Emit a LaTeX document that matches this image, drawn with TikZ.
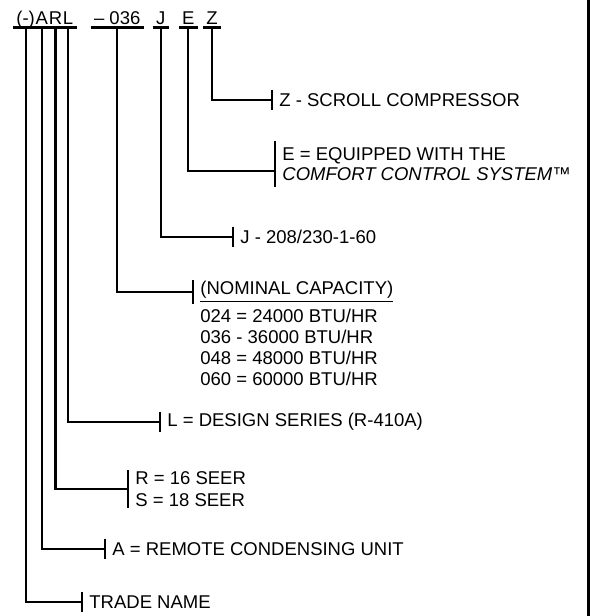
\documentclass[tikz,border=0pt]{standalone}
\usepackage{fontspec}
\setmainfont{Liberation Sans}
\usetikzlibrary{positioning}

\begin{document}
\begin{tikzpicture}[
    x=0.5pt, y=-0.5pt,
    txt/.style={font=\fontsize{9.25}{10.5}\selectfont},
    code/.style={txt, inner xsep=0pt, inner ysep=1.5pt, text depth=0pt, anchor=base west},
    lbl/.style={txt, anchor=west, inner xsep=3.5pt, inner ysep=0.5pt, minimum height=10pt, align=left},
    wire/.style={line width=1.1pt},
    border/.style={line width=1.5pt}
]
    \useasboundingbox (0,0) rectangle (591,616);

    % --- Model number ---
    \node[code] (cParen) at (16,24) {(-)};
    \node[code, base right=0pt of cParen] (cA) {A};
    \node[code, base right=0pt of cA] (cR) {R};
    \node[code, base right=0pt of cR] (cL) {L};
    \node[code, base right=10pt of cL] (cCap) {– 036};
    \node[code, base right=7.5pt of cCap] (cJ) {J};
    \node[code, base right=8pt of cJ] (cE) {E};
    \node[code, base right=5.5pt of cE] (cZ) {Z};

    \foreach \a/\b in {cParen/cL, cCap/cCap, cJ/cJ, cE/cE, cZ/cZ}
        \draw[wire] ([xshift=-1.5pt]\a.south west) -- ([xshift=1.5pt]\b.south east);

    % --- Legend ---
    \node[lbl] (lblZ) at (272,100) {Z - SCROLL COMPRESSOR};
    \node[lbl, inner ysep=3pt] (lblE) at (275,164) {E = EQUIPPED WITH THE\\[-0.5pt]\textit{COMFORT CONTROL SYSTEM™}};
    \node[lbl] (lblJ) at (233,237) {J - 208/230-1-60};
    \node[lbl] (lblCap) at (193,292) {\underline{(NOMINAL CAPACITY)}};
    \node[lbl, anchor=north west, minimum height=0pt] (lblCapList) at ([yshift=-2pt]lblCap.south west)
        {024 = 24000 BTU/HR\\036 - 36000 BTU/HR\\048 = 48000 BTU/HR\\060 = 60000 BTU/HR};
    \node[lbl] (lblL) at (160,422) {L = DESIGN SERIES (R-410A)};
    \node[lbl] (lblRS) at (128,489) {R = 16 SEER\\[0.5pt]S = 18 SEER};
    \node[lbl] (lblA) at (105,549) {A = REMOTE CONDENSING UNIT};
    \node[lbl] (lblTrade) at (82,602) {TRADE NAME};

    \foreach \n in {lblZ, lblE, lblJ, lblCap, lblL, lblRS, lblA, lblTrade}
        \draw[wire] (\n.north west) -- (\n.south west);

    % --- Connections ---
    \draw[wire] (cZ.south) |- (lblZ.west);
    \draw[wire] (cE.south) |- ([yshift=-3.5pt]lblE.west);
    \draw[wire] (cJ.south) |- (lblJ.west);
    \draw[wire] (cCap.south) |- (lblCap.west);
    \draw[wire] (cL.south) |- (lblL.west);
    \draw[wire] (cR.south) |- (lblRS.west);
    \draw[wire] (cA.south) |- (lblA.west);
    \draw[wire] (cParen.south) |- (lblTrade.west);

    \draw[border] (588,0) -- (588,616);
\end{tikzpicture}
\end{document}
